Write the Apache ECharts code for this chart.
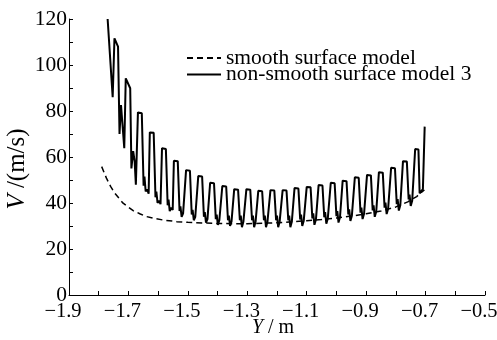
<!DOCTYPE html>
<html>
<head>
<meta charset="utf-8">
<script src="https://cdn.jsdelivr.net/npm/echarts@6/dist/echarts.min.js"></script>
<style>
    html, body { margin: 0; padding: 0; background: #fff; }
    #chart { width: 497px; height: 340px; }
</style>
</head>
<body>
<div id="chart"></div>
<script>
// tick labels shown on the axes
const xTickLabels = ['\u22121.9', '\u22121.7', '\u22121.5', '\u22121.3', '\u22121.1', '\u22120.9', '\u22120.7', '\u22120.5'];
const yTickLabels = ['0', '20', '40', '60', '80', '100', '120'];

const seriesNames = ['smooth surface model', 'non-smooth surface model 3'];

// smooth surface model, [Y (m), V (m/s)]
const smoothModel = [
    [-1.790, 55.8], [-1.774, 50.8], [-1.760, 47.2], [-1.746, 44.3], [-1.730, 41.8], [-1.718, 39.9],
    [-1.700, 38.2], [-1.684, 36.7], [-1.660, 35.2], [-1.639, 34.1], [-1.610, 33.2], [-1.583, 32.6],
    [-1.538, 31.9], [-1.500, 31.6], [-1.450, 31.3], [-1.400, 31.1], [-1.350, 31.0], [-1.300, 31.0],
    [-1.250, 31.2], [-1.200, 31.4], [-1.150, 31.8], [-1.100, 32.3], [-1.050, 32.8], [-1.000, 33.5],
    [-0.950, 34.3], [-0.900, 35.3], [-0.850, 36.5], [-0.800, 38.3], [-0.760, 40.5], [-0.730, 42.8],
    [-0.704, 45.7]
];

// non-smooth surface model 3, [Y (m), V (m/s)]
const roughModel = [
    [-1.770, 120], [-1.753, 86], [-1.747, 111.6], [-1.735, 108], [-1.730, 70], [-1.725, 82.6], [-1.714, 63.8],
    [-1.709, 94.2], [-1.694, 89.9], [-1.690, 55], [-1.684, 62.6], [-1.679, 58], [-1.675, 48],
    [-1.668, 79.4], [-1.655, 79], [-1.649, 47.5], [-1.646, 51.5], [-1.642, 45], [-1.637, 46], [-1.632, 44],
    [-1.628, 70.7], [-1.615, 70.5], [-1.609, 42.5], [-1.606, 45], [-1.602, 40], [-1.597, 41], [-1.592, 39.5],
    [-1.587, 63.8], [-1.574, 63.5], [-1.568, 39], [-1.565, 41.5], [-1.561, 36.5], [-1.556, 38], [-1.551, 37],
    [-1.547, 58.4], [-1.534, 58.2], [-1.528, 36.5], [-1.525, 38.5], [-1.521, 34], [-1.516, 35.5], [-1.511, 35],
    [-1.506, 54.3], [-1.493, 54], [-1.487, 35], [-1.484, 37], [-1.480, 32.5], [-1.475, 34], [-1.470, 34],
    [-1.465, 51.7], [-1.452, 51.5], [-1.446, 34], [-1.443, 36], [-1.439, 31.5], [-1.434, 33], [-1.429, 33],
    [-1.425, 48.8], [-1.412, 48.6], [-1.406, 33], [-1.403, 35], [-1.399, 30.5], [-1.394, 32.5], [-1.389, 32.5],
    [-1.384, 47.4], [-1.371, 47.2], [-1.365, 32.5], [-1.362, 34.5], [-1.358, 30], [-1.353, 32], [-1.348, 32],
    [-1.344, 46], [-1.331, 45.8], [-1.325, 32.5], [-1.322, 34.5], [-1.318, 29.5], [-1.313, 32], [-1.308, 32],
    [-1.303, 46], [-1.290, 45.8], [-1.284, 32.5], [-1.281, 34.5], [-1.277, 29.5], [-1.272, 32], [-1.267, 32],
    [-1.263, 45.3], [-1.250, 45.1], [-1.244, 32.5], [-1.241, 34.5], [-1.237, 29.5], [-1.232, 32], [-1.227, 32],
    [-1.222, 45.6], [-1.209, 45.4], [-1.203, 32.5], [-1.200, 34.5], [-1.196, 29.5], [-1.191, 32], [-1.186, 32],
    [-1.181, 45.6], [-1.168, 45.4], [-1.162, 32.5], [-1.159, 34.5], [-1.155, 29.5], [-1.150, 32], [-1.145, 32],
    [-1.141, 46.5], [-1.128, 46.3], [-1.122, 32.8], [-1.119, 35], [-1.115, 30], [-1.110, 32.3], [-1.105, 32.3],
    [-1.100, 47], [-1.087, 46.8], [-1.081, 33.3], [-1.078, 35.5], [-1.074, 30.5], [-1.069, 32.8], [-1.064, 32.8],
    [-1.060, 47.8], [-1.047, 47.6], [-1.041, 33.8], [-1.038, 36], [-1.034, 31], [-1.029, 33.3], [-1.024, 33.3],
    [-1.019, 48.8], [-1.006, 48.6], [-1.000, 34.3], [-0.997, 36.5], [-0.993, 31.5], [-0.988, 33.8], [-0.983, 33.8],
    [-0.979, 49.7], [-0.966, 49.5], [-0.960, 35], [-0.957, 37.2], [-0.953, 32.2], [-0.948, 34.5], [-0.943, 34.5],
    [-0.938, 51.2], [-0.925, 51], [-0.919, 35.8], [-0.916, 38], [-0.912, 33], [-0.907, 35.3], [-0.902, 35.3],
    [-0.897, 52.2], [-0.884, 52], [-0.878, 36.8], [-0.875, 39], [-0.871, 34], [-0.866, 36.3], [-0.861, 36.3],
    [-0.857, 53.4], [-0.844, 53.2], [-0.838, 38], [-0.835, 40.2], [-0.831, 35.2], [-0.826, 37.5], [-0.821, 37.5],
    [-0.816, 55.3], [-0.803, 55.1], [-0.797, 39.5], [-0.794, 41.7], [-0.790, 36.7], [-0.785, 39], [-0.780, 39],
    [-0.776, 58.2], [-0.763, 58], [-0.757, 41.5], [-0.754, 43.7], [-0.750, 38.7], [-0.745, 41], [-0.740, 41],
    [-0.735, 63.5], [-0.724, 63.3], [-0.720, 44.2], [-0.709, 46], [-0.703, 73.2]
];

const FONT = '"Liberation Serif", "Times New Roman", serif';
const fmtNum = v => String(v).replace('-', '\u2212');

const chart = echarts.init(document.getElementById('chart'), null, { renderer: 'canvas' });

chart.setOption({
    backgroundColor: '#fff',
    animation: false,
    textStyle: { fontFamily: FONT, color: '#000' },
    grid: { left: 69, right: 12, top: 19, bottom: 45, outerBoundsMode: 'none', containLabel: false },
    legend: {
        orient: 'vertical',
        left: 186,
        top: 47,
        padding: 0,
        itemWidth: 34,
        itemHeight: 10,
        itemGap: -5.5,
        itemStyle: { opacity: 0 },
        textStyle: { fontFamily: FONT, fontSize: 21.5, color: '#000' },
        data: seriesNames
    },
    xAxis: {
        type: 'value',
        min: -1.9,
        max: -0.5,
        interval: 0.1,
        name: '{i|Y} / m',
        nameLocation: 'middle',
        nameGap: 23,
        nameMoveOverlap: false,
        nameTextStyle: {
            fontFamily: FONT, fontSize: 20, color: '#000',
            padding: [0, 8, 0, 0],
            rich: { i: { fontFamily: FONT, fontSize: 20, fontStyle: 'italic' } }
        },
        axisLine: { lineStyle: { color: '#000', width: 1 } },
        axisTick: { inside: true, length: 4, lineStyle: { color: '#000' } },
        axisLabel: {
            fontFamily: FONT, fontSize: 20.5, color: '#000', margin: 6,
            padding: [0, 12, 0, 0],
            formatter: v => {
                const s = fmtNum(v.toFixed(1));
                return xTickLabels.includes(s) ? s : '';
            }
        },
        splitLine: { show: false }
    },
    yAxis: {
        type: 'value',
        min: 0,
        max: 120,
        interval: 20,
        name: '{i|V} /(m/s)',
        nameLocation: 'middle',
        nameGap: 39,
        nameMoveOverlap: false,
        nameTextStyle: {
            fontFamily: FONT, fontSize: 25, color: '#000',
            padding: [0, 24, 0, 0],
            rich: { i: { fontFamily: FONT, fontSize: 25, fontStyle: 'italic' } }
        },
        axisLine: { show: true, lineStyle: { color: '#000', width: 1 } },
        axisTick: { show: true, inside: true, length: 4, lineStyle: { color: '#000' } },
        minorTick: { show: true, splitNumber: 2, length: 4, lineStyle: { color: '#000' } },
        axisLabel: {
            fontFamily: FONT, fontSize: 21.5, color: '#000', margin: 2,
            formatter: v => yTickLabels.includes(String(v)) ? String(v) : ''
        },
        splitLine: { show: false }
    },
    series: [
        {
            name: seriesNames[0],
            type: 'line',
            data: smoothModel,
            symbol: 'none',
            lineStyle: { color: '#000', width: 1.5, type: [6, 4] },
            itemStyle: { color: '#000' }
        },
        {
            name: seriesNames[1],
            type: 'line',
            data: roughModel,
            symbol: 'none',
            lineStyle: { color: '#000', width: 2 },
            itemStyle: { color: '#000' }
        }
    ]
});
</script>
</body>
</html>
